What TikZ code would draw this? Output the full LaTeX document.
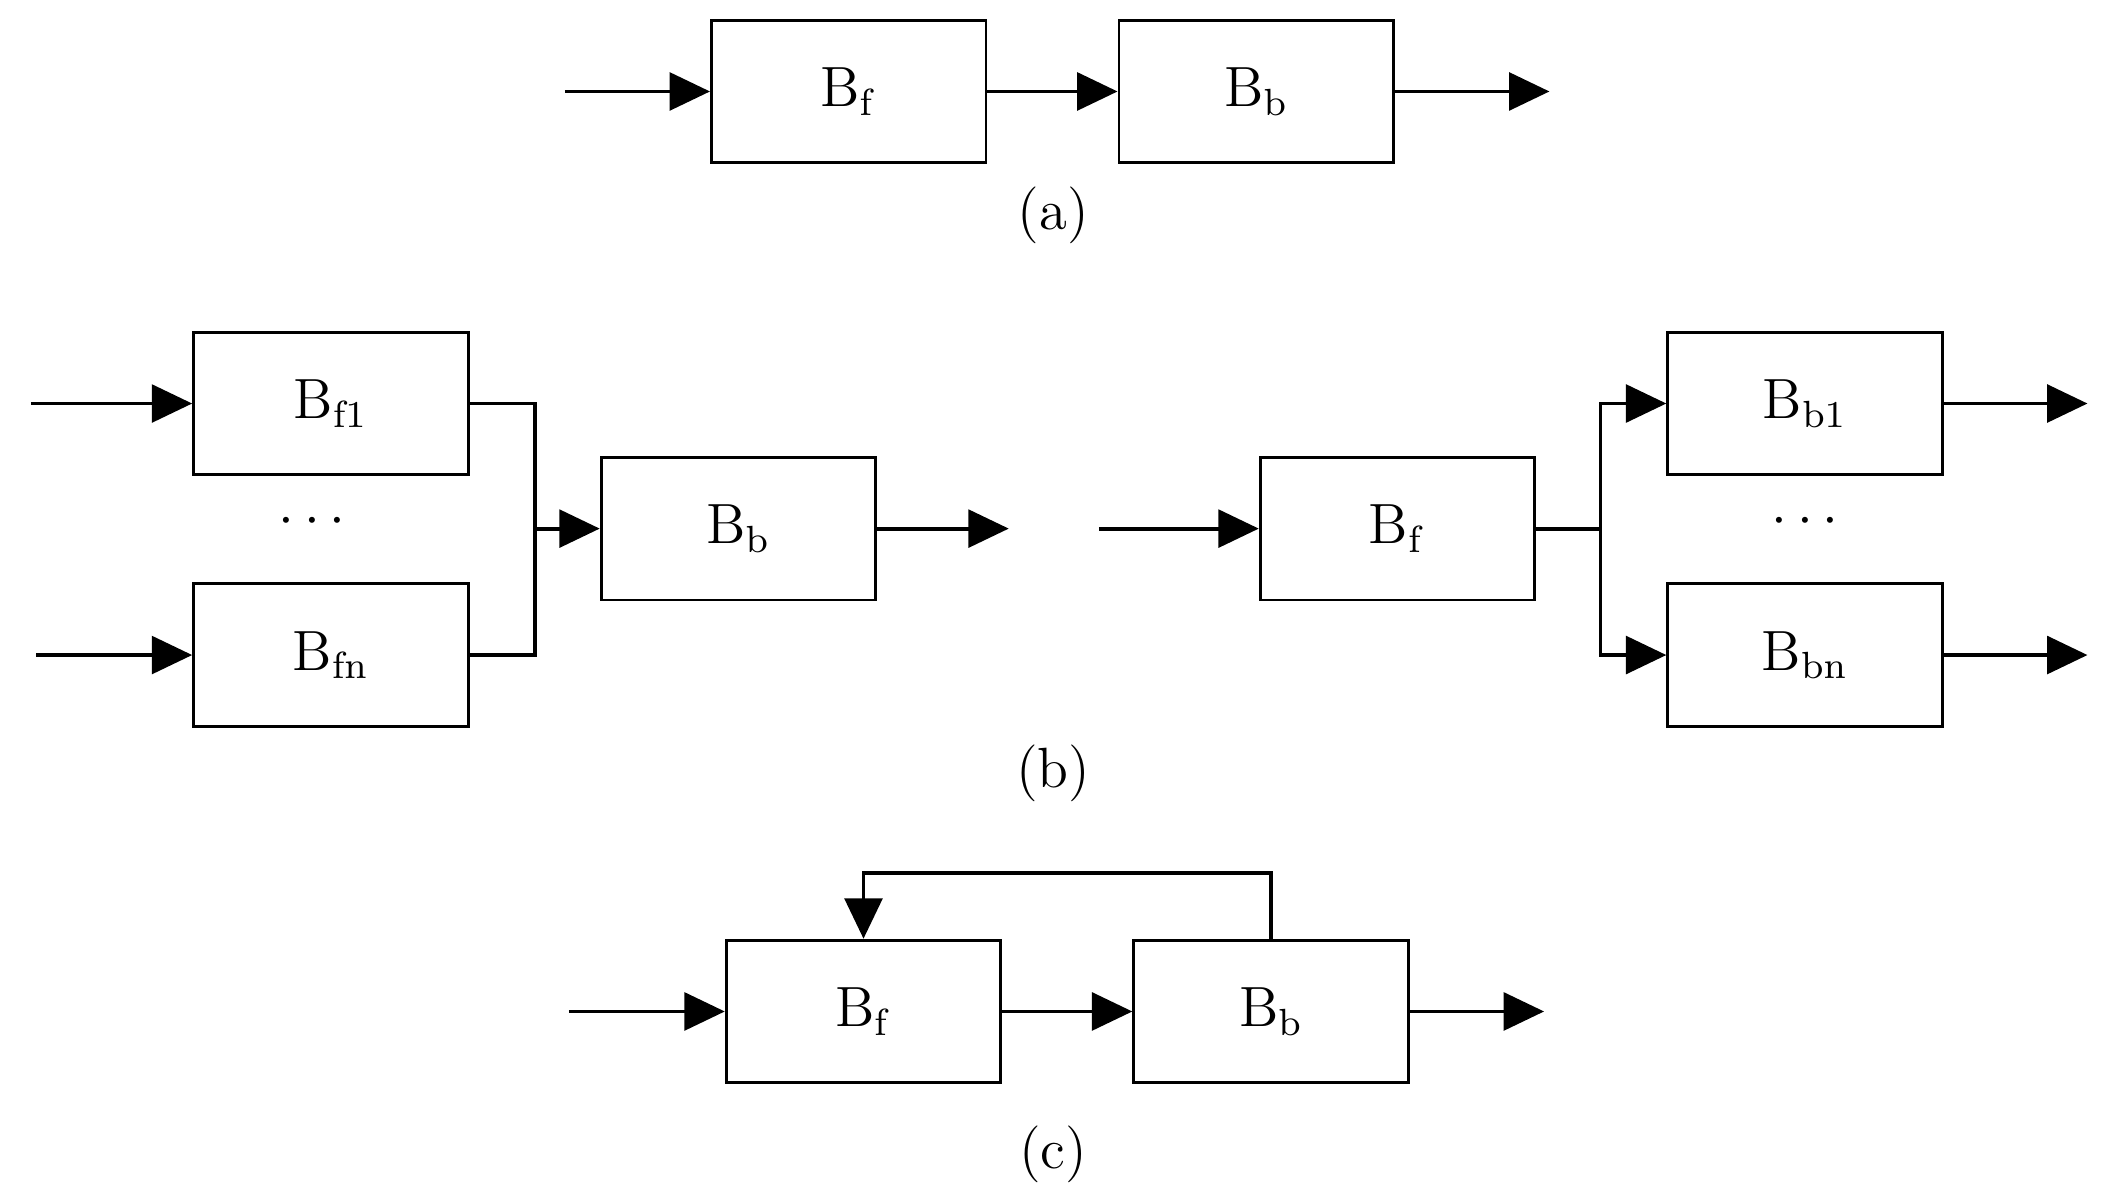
\documentclass[tikz,border=0pt]{standalone}
\usetikzlibrary{arrows.meta}
\begin{document}
\begin{tikzpicture}[x=0.01cm,y=-0.01cm,
  blk/.style={draw,line width=0.6pt,minimum width=2.04cm,minimum height=1.06cm,font=\fontsize{12}{14}\selectfont},
  flow/.style={line width=0.8pt,-{Triangle[length=0.3cm,width=0.28cm]}},
  wire/.style={line width=0.8pt},
  lbl/.style={font=\fontsize{12}{14}\selectfont}]
\useasboundingbox (0,0) rectangle (1568,890);
% (a) series
\node[blk] (aF) at (631,68) {B$_{\mathrm{f}}$};
\node[blk] (aB) at (934,68) {B$_{\mathrm{b}}$};
\coordinate (aIn) at (420,68);
\coordinate (aOut) at (1152,68);
\draw[flow] (aIn) -- (aF);
\draw[flow] (aF) -- (aB);
\draw[flow] (aB) -- (aOut);
\node[lbl] (la) at (783,160) {(a)};
% (b) left: merge
\node[blk] (bF1) at (246,300) {B$_{\mathrm{f1}}$};
\node[blk] (bFn) at (246,487) {B$_{\mathrm{fn}}$};
\node[blk] (bB) at (549,393) {B$_{\mathrm{b}}$};
\node[lbl] (bDotsL) at (232,388) {$\cdots$};
\coordinate (bIn1) at (23,300);
\coordinate (bInn) at (27,487);
\coordinate (bMerge) at (398,393);
\coordinate (bOut) at (750,393);
\draw[flow] (bIn1) -- (bF1);
\draw[flow] (bInn) -- (bFn);
\draw[wire] (bF1.east) -| (bMerge);
\draw[wire] (bFn.east) -| (bMerge);
\draw[flow] (bMerge) -- (bB);
\draw[flow] (bB) -- (bOut);
% (b) right: split
\node[blk] (sF) at (1039,393) {B$_{\mathrm{f}}$};
\node[blk] (sB1) at (1342,300) {B$_{\mathrm{b1}}$};
\node[blk] (sBn) at (1342,487) {B$_{\mathrm{bn}}$};
\node[lbl] (bDotsR) at (1342,388) {$\cdots$};
\coordinate (sIn) at (817,393);
\coordinate (sSplit) at (1190,393);
\coordinate (sOut1) at (1552,300);
\coordinate (sOutn) at (1552,487);
\draw[flow] (sIn) -- (sF);
\draw[wire] (sF) -- (sSplit);
\draw[flow] (sSplit) |- (sB1.west);
\draw[flow] (sSplit) |- (sBn.west);
\draw[flow] (sB1) -- (sOut1);
\draw[flow] (sBn) -- (sOutn);
\node[lbl] (lb) at (783,575) {(b)};
% (c) feedback
\node[blk] (cF) at (642,752) {B$_{\mathrm{f}}$};
\node[blk] (cB) at (945,752) {B$_{\mathrm{b}}$};
\coordinate (cIn) at (423,752);
\coordinate (cOut) at (1148,752);
\coordinate (cTop) at (945,649);
\draw[flow] (cIn) -- (cF);
\draw[flow] (cF) -- (cB);
\draw[flow] (cB) -- (cOut);
\draw[flow] (cB.north) -- (cTop) -| (cF.north);
\node[lbl] (lc) at (783,858) {(c)};
\end{tikzpicture}
\end{document}
